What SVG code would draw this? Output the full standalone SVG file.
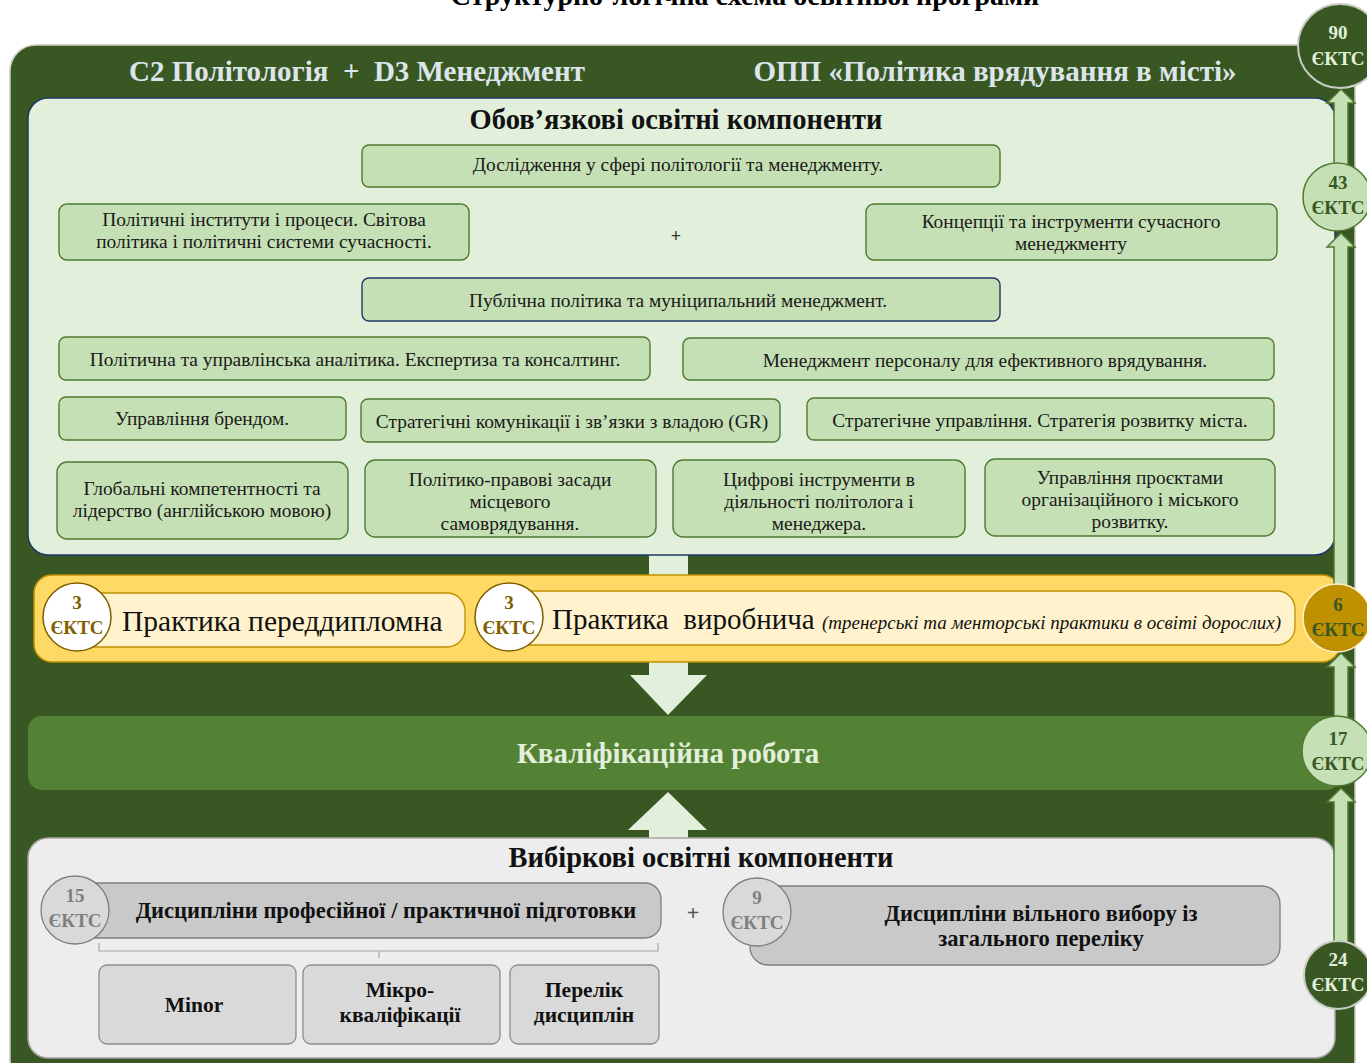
<svg xmlns="http://www.w3.org/2000/svg" width="1367" height="1063" viewBox="0 0 1367 1063" xml:space="preserve">
<defs>
<style>
text{font-family:"Liberation Serif","DejaVu Serif",serif;white-space:pre;}
.b{font-weight:bold;}
.box{fill:#c5e0b4;stroke:#4f7a32;stroke-width:1.4;}
.bt{font-size:19.4px;fill:#1a1a1a;text-anchor:middle;}
.hdr{font-size:29px;font-weight:bold;fill:#dde4ea;text-anchor:middle;}
.ttl{font-size:28.5px;font-weight:bold;fill:#111;text-anchor:middle;}
.ek{font-size:19px;font-weight:bold;text-anchor:middle;}
.pill{fill:#fff2cc;stroke:#bf9000;stroke-width:1.3;}
.ycirc{fill:#ffffff;stroke:#7f6000;stroke-width:1.5;}
.gpill{fill:#c9c9c9;stroke:#7f7f7f;stroke-width:1.3;}
.gcirc{fill:#d9d9d9;stroke:#7f7f7f;stroke-width:1.3;}
.gbox{fill:#d9d9d9;stroke:#8c8c8c;stroke-width:1.3;}
.gt{font-size:22.5px;font-weight:bold;fill:#111;text-anchor:middle;}
.arr{fill:#c5e0b4;stroke:#4f7a32;stroke-width:1.5;}
</style>
</defs>
<rect x="0" y="0" width="1367" height="1063" fill="#ffffff"/>
<text x="745" y="5" class="b" style="font-size:28px;text-anchor:middle;fill:#000">Структурно-логічна схема освітньої програми</text>

<g id="outer">
<rect x="10" y="45" width="1345" height="1040" rx="26" fill="#385723" stroke="#c8ccc4" stroke-width="1.5"/>
<text x="357" y="81" class="hdr">C2 Політологія  +  D3 Менеджмент</text>
<text x="995" y="81" class="hdr">ОПП «Політика врядування в місті»</text>
</g>

<g id="connectors">
<rect x="649" y="550" width="39" height="126" fill="#e2efda"/>
<polygon points="630,675 707,675 668,715" fill="#e2efda"/>
<polygon points="628,830 668,792 707,830" fill="#e2efda"/>
<rect x="649" y="829" width="39" height="12" fill="#e2efda"/>
</g>

<g id="mandatory">
<rect x="28" y="98" width="1307" height="457" rx="20" fill="#e2efda" stroke="#1f3864" stroke-width="1.5"/>
<text x="676" y="129" class="ttl">Обов’язкові освітні компоненти</text>
<text x="676" y="242" style="font-size:18px;font-weight:bold;text-anchor:middle;fill:#333">+</text>
</g>

<g id="c1"><rect class="box" x="362" y="145" width="638" height="42" rx="7"/><text class="bt" x="678" y="171">Дослідження у сфері політології та менеджменту.</text></g>
<g id="c2"><rect class="box" x="59" y="204" width="410" height="56" rx="8"/><text class="bt" x="264" y="226">Політичні інститути і процеси. Світова</text><text class="bt" x="264" y="248">політика і політичні системи сучасності.</text></g>
<g id="c3"><rect class="box" x="866" y="204" width="411" height="56" rx="8"/><text class="bt" x="1071" y="228">Концепції та інструменти сучасного</text><text class="bt" x="1071" y="250">менеджменту</text></g>
<g id="c4"><rect x="362" y="278" width="638" height="43" rx="7" fill="#c5e0b4" stroke="#1f3864" stroke-width="1.4"/><text class="bt" x="678" y="307">Публічна політика та муніципальний менеджмент.</text></g>
<g id="c5"><rect class="box" x="59" y="337" width="591" height="43" rx="7"/><text class="bt" x="355" y="366">Політична та управлінська аналітика. Експертиза та консалтинг.</text></g>
<g id="c6"><rect class="box" x="683" y="338" width="591" height="42" rx="7"/><text class="bt" x="985" y="367">Менеджмент персоналу для ефективного врядування.</text></g>
<g id="c7"><rect class="box" x="59" y="397" width="287" height="43" rx="7"/><text class="bt" x="202" y="425">Управління брендом.</text></g>
<g id="c8"><rect class="box" x="361" y="399" width="419" height="43" rx="7"/><text class="bt" x="572" y="428">Стратегічні комунікації і зв’язки з владою (GR)</text></g>
<g id="c9"><rect class="box" x="807" y="398" width="467" height="42" rx="7"/><text class="bt" x="1040" y="427">Стратегічне управління. Стратегія розвитку міста.</text></g>
<g id="c10"><rect class="box" x="57" y="462" width="291" height="77" rx="10"/><text class="bt" x="202" y="495">Глобальні компетентності та</text><text class="bt" x="202" y="517">лідерство (англійською мовою)</text></g>
<g id="c11"><rect class="box" x="365" y="460" width="291" height="77" rx="10"/><text class="bt" x="510" y="486">Політико-правові засади</text><text class="bt" x="510" y="508">місцевого</text><text class="bt" x="510" y="530">самоврядування.</text></g>
<g id="c12"><rect class="box" x="673" y="460" width="292" height="77" rx="10"/><text class="bt" x="819" y="486">Цифрові інструменти в</text><text class="bt" x="819" y="508">діяльності політолога і</text><text class="bt" x="819" y="530">менеджера.</text></g>
<g id="c13"><rect class="box" x="985" y="459" width="290" height="77" rx="10"/><text class="bt" x="1130" y="484">Управління проєктами</text><text class="bt" x="1130" y="506">організаційного і міського</text><text class="bt" x="1130" y="528">розвитку.</text></g>

<g id="practice">
<rect x="34" y="575" width="1306" height="87" rx="18" fill="#ffd966" stroke="#bf9000" stroke-width="1.5"/>
</g>
<g id="p1">
<rect class="pill" x="70" y="593" width="395" height="54" rx="18"/>
<circle class="ycirc" cx="77" cy="617" r="34"/>
<text class="ek" x="77" y="609" fill="#7f6000">3</text>
<text class="ek" x="77" y="634" fill="#7f6000">ЄКТС</text>
<text x="122" y="631" style="font-size:29.5px;fill:#111">Практика переддипломна</text>
</g>
<g id="p2">
<rect class="pill" x="505" y="591" width="790" height="54" rx="18"/>
<circle class="ycirc" cx="509" cy="617" r="34"/>
<text class="ek" x="509" y="609" fill="#7f6000">3</text>
<text class="ek" x="509" y="634" fill="#7f6000">ЄКТС</text>
<text x="552" y="629" style="font-size:29px;fill:#111">Практика  виробнича <tspan style="font-size:19px;font-style:italic">(тренерські та менторські практики в освіті дорослих)</tspan></text>
</g>

<g id="qualification">
<rect x="28" y="716" width="1312" height="74" rx="14" fill="#548235"/>
<text x="668" y="763" style="font-size:29px;font-weight:bold;fill:#e2efda;text-anchor:middle">Кваліфікаційна робота</text>
</g>

<g id="elective">
<rect x="28" y="838" width="1307" height="220" rx="20" fill="#ededed" stroke="#a5a5a5" stroke-width="1.5"/>
<text x="701" y="867" class="ttl">Вибіркові освітні компоненти</text>
<text x="693" y="920" style="font-size:22px;font-weight:bold;fill:#555;text-anchor:middle">+</text>
<path d="M99,943 V951 H658 V943 M379,951 V958" fill="none" stroke="#a6a6a6" stroke-width="1.2"/>
</g>
<g id="e1">
<rect class="gpill" x="65" y="883" width="596" height="55" rx="16"/>
<circle class="gcirc" cx="75" cy="910" r="34"/>
<text class="ek" x="75" y="902" fill="#7f7f7f">15</text>
<text class="ek" x="75" y="927" fill="#7f7f7f">ЄКТС</text>
<text x="386" y="918" class="gt">Дисципліни професійної / практичної підготовки</text>
</g>
<g id="e2">
<rect class="gpill" x="750" y="886" width="530" height="79" rx="18"/>
<circle class="gcirc" cx="757" cy="912" r="34"/>
<text class="ek" x="757" y="904" fill="#7f7f7f">9</text>
<text class="ek" x="757" y="929" fill="#7f7f7f">ЄКТС</text>
<text x="1041" y="921" class="gt">Дисципліни вільного вибору із</text>
<text x="1041" y="946" class="gt">загального переліку</text>
</g>
<g id="e3"><rect class="gbox" x="99" y="965" width="197" height="79" rx="8"/><text x="194" y="1012" class="gt" style="font-size:21.5px">Minor</text></g>
<g id="e4"><rect class="gbox" x="303" y="965" width="197" height="79" rx="8"/><text x="400" y="997" class="gt" style="font-size:21.5px">Мікро-</text><text x="400" y="1022" class="gt" style="font-size:21.5px">кваліфікації</text></g>
<g id="e5"><rect class="gbox" x="510" y="965" width="149" height="79" rx="8"/><text x="584" y="997" class="gt" style="font-size:21.5px">Перелік</text><text x="584" y="1022" class="gt" style="font-size:21.5px">дисциплін</text></g>

<g id="credit-arrows">
<path class="arr" d="M1334,945 V802 H1327 L1341,788 L1355,802 H1348 V945 Z"/>
<path class="arr" d="M1334,720 V667 H1327 L1341,653 L1355,667 H1348 V720 Z"/>
<path class="arr" d="M1334,590 V247 H1327 L1341,233 L1355,247 H1348 V590 Z"/>
<path class="arr" d="M1334,168 V103 H1327 L1341,89 L1355,103 H1348 V168 Z"/>
</g>

<g id="ects90"><circle cx="1340" cy="46" r="42" fill="#385723" stroke="#c8ccc4" stroke-width="2"/><text class="ek" x="1338" y="39" fill="#e2efda">90</text><text class="ek" x="1338" y="65" fill="#e2efda">ЄКТС</text></g>
<g id="ects43"><circle cx="1337" cy="197" r="34" fill="#c5e0b4" stroke="#4f7a32" stroke-width="1.5"/><text class="ek" x="1338" y="189" fill="#385723">43</text><text class="ek" x="1338" y="214" fill="#385723">ЄКТС</text></g>
<g id="ects6"><circle cx="1337" cy="618" r="34" fill="#bf9000" stroke="#fff2cc" stroke-width="1.5"/><text class="ek" x="1338" y="611" fill="#385723">6</text><text class="ek" x="1338" y="636" fill="#385723">ЄКТС</text></g>
<g id="ects17"><circle cx="1337" cy="751" r="35" fill="#c5e0b4" stroke="#4f7a32" stroke-width="1.5"/><text class="ek" x="1338" y="745" fill="#385723">17</text><text class="ek" x="1338" y="770" fill="#385723">ЄКТС</text></g>
<g id="ects24"><circle cx="1338" cy="975" r="34" fill="#385723" stroke="#c8ccc4" stroke-width="2"/><text class="ek" x="1338" y="966" fill="#e2efda">24</text><text class="ek" x="1338" y="991" fill="#e2efda">ЄКТС</text></g>
</svg>
